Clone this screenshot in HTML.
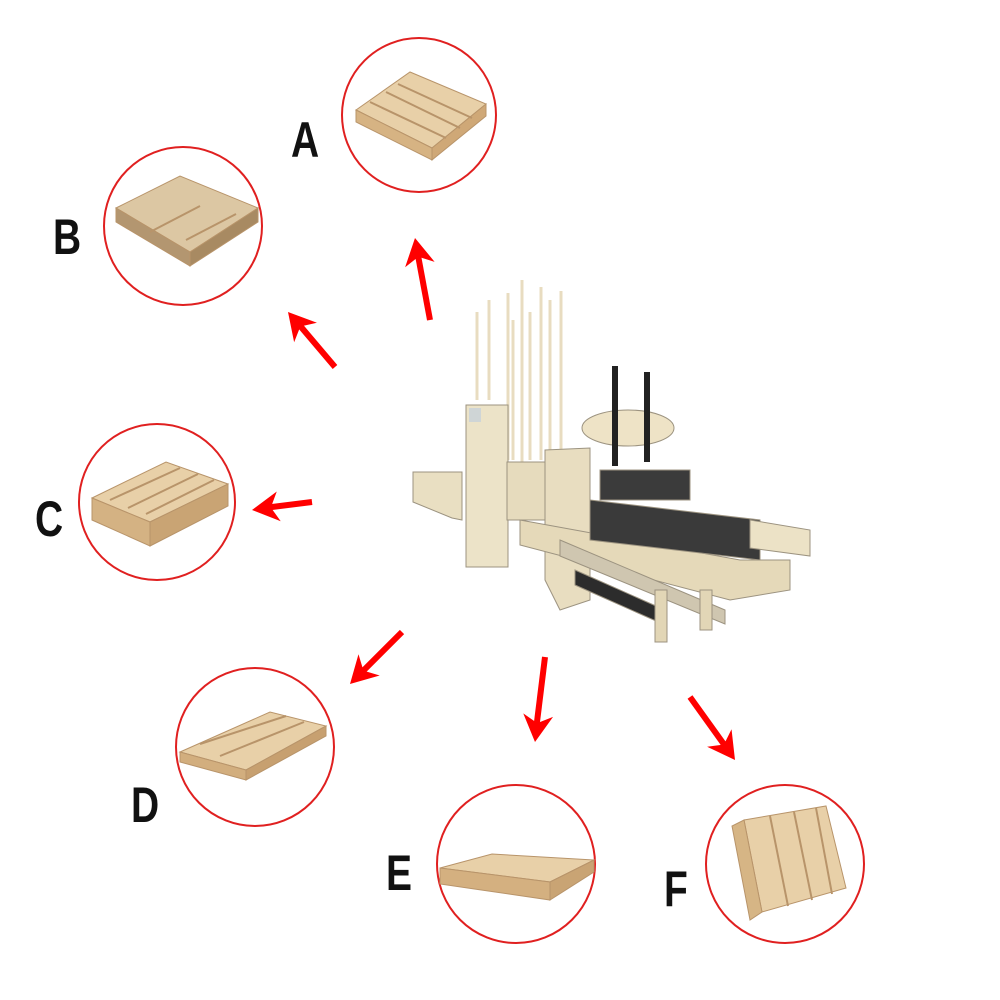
<!DOCTYPE html>
<html><head><meta charset="utf-8"><style>
html,body{margin:0;padding:0;background:#fff;}
svg{display:block}
text{font-family:"Liberation Sans",sans-serif;font-weight:bold;fill:#111}
</style></head><body>
<svg width="1000" height="1000" viewBox="0 0 1000 1000" xmlns="http://www.w3.org/2000/svg">
<defs>
<g id="ar"><polygon points="0,0 -27,-15 -19,0 -27,15" fill="#f00"/></g>
</defs>
<g fill="none" stroke="#e02020" stroke-width="2">
<circle cx="419" cy="115" r="77"/>
<circle cx="183" cy="226" r="79"/>
<circle cx="157" cy="502" r="78"/>
<circle cx="255" cy="747" r="79"/>
<circle cx="516" cy="864" r="79"/>
<circle cx="785" cy="864" r="79"/>
</g>
<g fill="#e8d0a8" stroke="#b8946a" stroke-width="1">
<polygon points="356,110 410,72 486,104 432,148"/>
<polygon points="356,110 432,148 432,160 356,122" fill="#d6b383"/>
<polygon points="432,148 486,104 486,116 432,160" fill="#cfa877"/>
<polygon points="116,208 180,176 258,208 190,252" fill="#dcc7a3"/>
<polygon points="116,208 190,252 190,266 116,222" fill="#b39670"/>
<polygon points="190,252 258,208 258,222 190,266" fill="#a88a62"/>
<polygon points="92,498 166,462 228,484 150,522"/>
<polygon points="92,498 150,522 150,546 92,520" fill="#d4b283"/>
<polygon points="150,522 228,484 228,506 150,546" fill="#c9a474"/>
<polygon points="180,752 270,712 326,726 246,770"/>
<polygon points="180,752 246,770 246,780 180,762" fill="#d2ae7e"/>
<polygon points="246,770 326,726 326,736 246,780" fill="#c7a070"/>
<polygon points="440,868 492,854 594,860 550,882"/>
<polygon points="440,868 550,882 550,900 440,884" fill="#d4b080"/>
<polygon points="550,882 594,860 594,872 550,900" fill="#c9a474"/>
<polygon points="744,820 826,806 846,888 762,912"/>
<polygon points="744,820 762,912 750,920 732,826" fill="#d6b585"/>
</g>
<g stroke="#b8946a" stroke-width="2" fill="none">
<line x1="370" y1="102" x2="446" y2="138"/><line x1="386" y1="92" x2="460" y2="128"/><line x1="398" y1="84" x2="472" y2="118"/>
<line x1="150" y1="232" x2="200" y2="206"/><line x1="186" y1="240" x2="236" y2="214"/>
<line x1="110" y1="500" x2="180" y2="468"/><line x1="128" y1="508" x2="198" y2="474"/><line x1="146" y1="514" x2="214" y2="480"/>
<line x1="200" y1="744" x2="286" y2="716"/><line x1="220" y1="756" x2="304" y2="722"/>
<line x1="770" y1="816" x2="788" y2="906"/><line x1="794" y1="812" x2="812" y2="900"/><line x1="816" y1="808" x2="832" y2="894"/>
</g>
<g font-size="50">
<text transform="translate(291,157) scale(0.78,1)">A</text>
<text transform="translate(53,254) scale(0.78,1)">B</text>
<text transform="translate(35,536) scale(0.78,1)">C</text>
<text transform="translate(131,822) scale(0.78,1)">D</text>
<text transform="translate(386,890) scale(0.78,1)">E</text>
<text transform="translate(664,906) scale(0.78,1)">F</text>
</g>
<g stroke="#f00" stroke-width="6">
<line x1="430" y1="320" x2="417" y2="250"/>
<line x1="335" y1="367" x2="296" y2="321"/>
<line x1="312" y1="502" x2="264" y2="508"/>
<line x1="402" y1="632" x2="359" y2="675"/>
<line x1="545" y1="657" x2="536" y2="730"/>
<line x1="690" y1="697" x2="728" y2="750"/>
</g>
<use href="#ar" transform="translate(415,238) rotate(-100.4)"/>
<use href="#ar" transform="translate(288,312) rotate(-130.5)"/>
<use href="#ar" transform="translate(252,510) rotate(172.4)"/>
<use href="#ar" transform="translate(350,684) rotate(135)"/>
<use href="#ar" transform="translate(535,742) rotate(96.7)"/>
<use href="#ar" transform="translate(735,760) rotate(54.5)"/>
<g stroke="#e8dcc0" stroke-width="3">
<line x1="477" y1="400" x2="477" y2="312"/><line x1="489" y1="400" x2="489" y2="300"/>
<line x1="508" y1="460" x2="508" y2="293"/><line x1="513" y1="460" x2="513" y2="320"/>
<line x1="522" y1="470" x2="522" y2="280"/><line x1="530" y1="460" x2="530" y2="312"/>
<line x1="541" y1="460" x2="541" y2="287"/><line x1="550" y1="460" x2="550" y2="300"/>
<line x1="561" y1="460" x2="561" y2="291"/>
</g>
<g stroke="#9c9380" stroke-width="1">
<polygon points="413,472 462,472 462,520 452,518 413,502" fill="#e9dfc2"/>
<rect x="466" y="405" width="42" height="162" fill="#ece3c8"/>
<polygon points="507,462 560,462 560,520 507,520" fill="#e6dbbd"/>
<ellipse cx="628" cy="428" rx="46" ry="18" fill="#eee3c6"/>
<polygon points="545,450 590,448 590,600 560,610 545,580" fill="#e8ddc0"/>
<polygon points="520,520 740,560 790,560 790,590 730,600 520,545" fill="#e5d9b9"/>
<polygon points="590,500 760,520 760,560 590,540" fill="#3a3a3a"/>
<polygon points="560,540 725,610 725,624 560,556" fill="#cfc6b0"/>
<polygon points="575,570 665,610 665,625 575,585" fill="#2c2c2c"/>
<polygon points="600,470 690,470 690,500 600,500" fill="#3b3b3b"/>
<polygon points="750,520 810,530 810,556 750,548" fill="#ece2c6"/>
<rect x="655" y="590" width="12" height="52" fill="#e2d6b6"/>
<rect x="700" y="590" width="12" height="40" fill="#e2d6b6"/>
</g>
<g fill="#222"><rect x="612" y="366" width="6" height="100"/><rect x="644" y="372" width="6" height="90"/><rect x="469" y="408" width="12" height="14" fill="#cfd5d6"/></g>
</svg>
</body></html>
